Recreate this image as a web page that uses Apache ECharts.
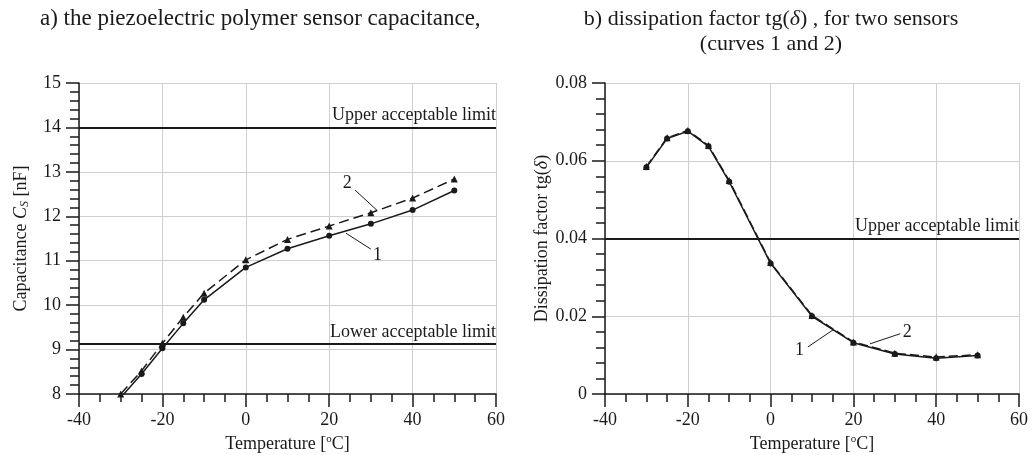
<!DOCTYPE html>
<html>
<head>
<meta charset="utf-8">
<script src="https://cdn.jsdelivr.net/npm/echarts@6/dist/echarts.min.js"></script>
<style>
  html, body { margin: 0; padding: 0; background: #fff; }
  #chart { width: 1036px; height: 455px; }
</style>
</head>
<body>
<div id="chart"></div>
<script>
// temperatures measured (°C)
const temps = [-30, -25, -20, -15, -10, 0, 10, 20, 30, 40, 50]
// a) capacitance [nF], curve 1 and curve 2
const capCurve1 = [7.92, 8.45, 9.03, 9.59, 10.12, 10.85, 11.27, 11.56, 11.83, 12.14, 12.58]
const capCurve2 = [8.00, 8.52, 9.14, 9.73, 10.27, 11.02, 11.48, 11.78, 12.08, 12.41, 12.84]
// b) dissipation factor tg(delta), curve 1 and curve 2
const dissCurve1 = [0.0583, 0.0657, 0.0676, 0.0637, 0.0546, 0.0336, 0.0200, 0.0132, 0.0103, 0.0092, 0.0099]
const dissCurve2 = [0.0585, 0.0659, 0.0678, 0.0639, 0.0549, 0.0338, 0.0202, 0.0134, 0.0105, 0.0095, 0.0101]
// acceptable limits
const capUpper = 14
const capLower = 9.13
const dissUpper = 0.04
// axis ticks
const xTicks = [-40, -20, 0, 20, 40, 60]
const capTicks = [8, 9, 10, 11, 12, 13, 14, 15]
const dissTicks = [0, 0.02, 0.04, 0.06, 0.08]

const font = 'Liberation Serif, Times New Roman, serif'
const black = '#1a1a1a'

function pairs(ys) {
  return temps.map((t, i) => [t, ys[i]])
}

function xAxisCfg(idx) {
  return {
    gridIndex: idx,
    type: 'value',
    min: xTicks[0],
    max: xTicks[xTicks.length - 1],
    interval: 20,
    name: 'Temperature [{sup|o}C]',
    nameLocation: 'middle',
    nameGap: 40,
    nameTextStyle: {
      fontFamily: font, fontSize: 18, color: black,
      rich: { sup: { fontFamily: font, fontSize: 11, color: black, verticalAlign: 'top', padding: [0, 0, 9, 0] } }
    },
    axisLine: { onZero: false, lineStyle: { color: black, width: 1.5 } },
    axisTick: { length: 13, lineStyle: { color: black, width: 1.5 } },
    minorTick: { show: true, splitNumber: 4, length: 8, lineStyle: { color: black, width: 1.5 } },
    axisLabel: { fontFamily: font, fontSize: 18, color: black, margin: 17 },
    splitLine: { show: true, lineStyle: { color: '#cfcfcf', width: 1 } }
  }
}

function yAxisCfg(idx, ticks, interval, name, gap, fmt) {
  return {
    gridIndex: idx,
    type: 'value',
    min: ticks[0],
    max: ticks[ticks.length - 1],
    interval: interval,
    name: name,
    nameLocation: 'middle',
    nameGap: gap,
    nameTextStyle: {
      fontFamily: font, fontSize: 18, color: black,
      rich: {
        i: { fontFamily: font, fontSize: 18, fontStyle: 'italic', color: black },
        sub: { fontFamily: font, fontSize: 12, fontStyle: 'italic', color: black, padding: [7, 0, 0, 0] }
      }
    },
    axisLine: { onZero: false, lineStyle: { color: black, width: 1.5 } },
    axisTick: { length: 13, lineStyle: { color: black, width: 1.5 } },
    minorTick: { show: true, splitNumber: 5, length: 9, lineStyle: { color: black, width: 1.5 } },
    axisLabel: { fontFamily: font, fontSize: 18, color: black, margin: 18, formatter: fmt },
    splitLine: { show: true, lineStyle: { color: '#cfcfcf', width: 1 } }
  }
}

function limitLines(values, names) {
  return {
    silent: true,
    symbol: ['none', 'none'],
    lineStyle: { color: black, width: 2, type: 'solid' },
    label: {
      show: true, position: 'insideEndTop', distance: [0, 3],
      fontFamily: font, fontSize: 18, color: black,
      formatter: p => p.name
    },
    data: values.map((v, i) => ({ yAxis: v, name: names[i] }))
  }
}

function leader(from, to) {
  return [{ coord: from }, { coord: to }]
}

function tagPoint(coord, text) {
  return {
    coord: coord, value: text, symbol: 'circle', symbolSize: 0,
    label: { show: true, position: 'inside', fontFamily: font, fontSize: 18, color: black, formatter: text }
  }
}

function leaders(lines, tags) {
  return {
    markLine: {
      silent: true,
      symbol: ['none', 'none'],
      lineStyle: { color: black, width: 1, type: 'solid' },
      label: { show: false },
      data: lines
    },
    markPoint: { silent: true, data: tags }
  }
}

const chart = echarts.init(document.getElementById('chart'))

const option = {
  backgroundColor: '#fff',
  animation: false,
  title: [
    {
      text: 'a) the piezoelectric polymer sensor capacitance,',
      left: 35, top: 2,
      textStyle: { fontFamily: font, fontSize: 23, fontWeight: 'normal', color: black }
    },
    {
      text: 'b) dissipation factor tg({i|δ}) , for two sensors\n(curves 1 and 2)',
      left: 766, top: 2, textAlign: 'center',
      textStyle: {
        fontFamily: font, fontSize: 22, fontWeight: 'normal', color: black, lineHeight: 25, align: 'center',
        rich: { i: { fontFamily: font, fontSize: 22, fontStyle: 'italic', color: black } }
      }
    }
  ],
  grid: [
    { left: 79, top: 83, width: 417, height: 311, containLabel: false, outerBoundsMode: 'none' },
    { left: 605, top: 83, width: 414, height: 311, containLabel: false, outerBoundsMode: 'none' }
  ],
  xAxis: [xAxisCfg(0), xAxisCfg(1)],
  yAxis: [
    yAxisCfg(0, capTicks, 1, 'Capacitance {i|C}{sub|S} [nF]', 48, v => String(v)),
    yAxisCfg(1, dissTicks, 0.02, 'Dissipation factor tg({i|δ})', 45, v => (v === 0 ? '0' : v.toFixed(2)))
  ],
  series: [
    {
      name: '1', type: 'line', xAxisIndex: 0, yAxisIndex: 0,
      data: pairs(capCurve1),
      symbol: 'circle', symbolSize: 6,
      itemStyle: { color: black },
      lineStyle: { color: black, width: 1.5 },
      markLine: limitLines([capUpper, capLower], ['Upper acceptable limit', 'Lower acceptable limit'])
    },
    Object.assign({
      name: '2', type: 'line', xAxisIndex: 0, yAxisIndex: 0,
      data: pairs(capCurve2),
      symbol: 'triangle', symbolSize: 7,
      itemStyle: { color: black },
      lineStyle: { color: black, width: 1.5, type: [10, 5] }
    }, leaders(
      [leader([26.2, 12.59], [31.5, 12.13]), leader([24.0, 11.62], [30.0, 11.26])],
      [tagPoint([24.3, 12.75], '2'), tagPoint([31.6, 11.12], '1')]
    )),
    {
      name: '1', type: 'line', xAxisIndex: 1, yAxisIndex: 1,
      data: pairs(dissCurve1),
      symbol: 'circle', symbolSize: 6,
      itemStyle: { color: black },
      lineStyle: { color: black, width: 1.5 },
      markLine: limitLines([dissUpper], ['Upper acceptable limit'])
    },
    Object.assign({
      name: '2', type: 'line', xAxisIndex: 1, yAxisIndex: 1,
      data: pairs(dissCurve2),
      symbol: 'triangle', symbolSize: 7,
      itemStyle: { color: black },
      lineStyle: { color: black, width: 1.5, type: [9, 4] }
    }, leaders(
      [leader([24.0, 0.0129], [31.3, 0.0155]), leader([9.0, 0.0121], [15.1, 0.0165])],
      [tagPoint([33.0, 0.0158], '2'), tagPoint([7.0, 0.0112], '1')]
    ))
  ]
}

chart.setOption(option)
window.onresize = () => chart.resize()
</script>
</body>
</html>
